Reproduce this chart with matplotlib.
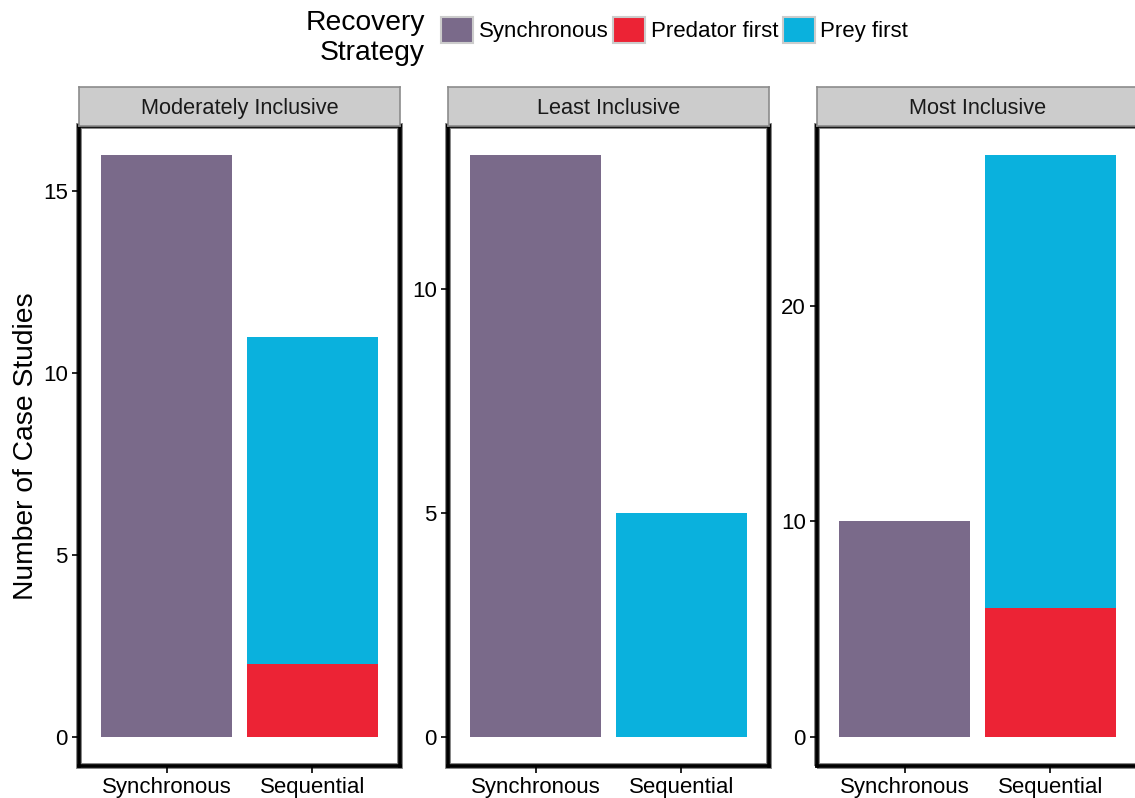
import matplotlib.pyplot as plt
from matplotlib.patches import Patch, Rectangle

plt.rcParams['font.family'] = ['Liberation Sans', 'DejaVu Sans']

# counts of case studies per definition
panels = ['Moderately Inclusive', 'Least Inclusive', 'Most Inclusive']
groups = ['Synchronous', 'Sequential']
synchronous = [16, 13, 10]
predator_first = [2, 0, 6]
prey_first = [9, 5, 21]
yticks = [[0, 5, 10, 15], [0, 5, 10], [0, 10, 20]]

c_sync = '#7A6A8A'
c_pred = '#EC2335'
c_prey = '#0AB1DD'

W, H = 1135, 798
fig = plt.figure(figsize=(W/100, H/100), dpi=100)

lefts = [79, 448, 817]
pw = 321
top, bot = 126, 766
strip_h = 39

for i, name in enumerate(panels):
    ax = fig.add_axes([lefts[i]/W, 1-bot/H, pw/W, (bot-top)/H])
    ax.bar(0, synchronous[i], width=0.9, color=c_sync)
    ax.bar(1, predator_first[i], width=0.9, color=c_pred)
    ax.bar(1, prey_first[i], width=0.9, bottom=predator_first[i], color=c_prey)
    ymax = max(synchronous[i], predator_first[i] + prey_first[i])
    ax.set_ylim(-0.05*ymax, 1.05*ymax)
    ax.set_xlim(-0.6, 1.6)
    ax.set_xticks([0, 1])
    ax.set_xticklabels(groups)
    ax.set_yticks(yticks[i])
    ax.tick_params(labelsize=16, length=5, width=1.2, color='black', pad=3)
    for s in ax.spines.values():
        s.set_linewidth(2.6)
        s.set_color('black')
    # outer gray border
    ax.add_patch(Rectangle((0, 0), 1, 1, transform=ax.transAxes, fill=False,
                           edgecolor='#7F7F7F', lw=4.2, zorder=-1, clip_on=False))
    # strip
    sax = fig.add_axes([lefts[i]/W, 1-top/H, pw/W, strip_h/H])
    sax.set_facecolor('#CCCCCC')
    sax.set_xticks([])
    sax.set_yticks([])
    for s in sax.spines.values():
        s.set_color('#8C8C8C')
        s.set_linewidth(1.2)
    sax.text(0.5, 0.44, name, ha='center', va='center', fontsize=15.7,
             color='#1A1A1A', transform=sax.transAxes)
    if i == 0:
        ax.set_ylabel('Number of Case Studies', fontsize=20.3, labelpad=3)

# legend
fig.text(425/W, 1-38/H, 'Recovery\nStrategy', ha='right', va='center',
         fontsize=20.3, linespacing=1.2)
handles = [Patch(facecolor=c, edgecolor='#CCCCCC', lw=1.5) for c in (c_sync, c_pred, c_prey)]
fig.legend(handles, ['Synchronous', 'Predator first', 'Prey first'], ncol=3,
           loc='center left', bbox_to_anchor=(441/W, 1-30/H), frameon=False,
           fontsize=16, handlelength=1.45, handleheight=1.45,
           handletextpad=0.25, columnspacing=0.2, borderaxespad=0, borderpad=0)

fig.savefig('out.png', dpi=100)
